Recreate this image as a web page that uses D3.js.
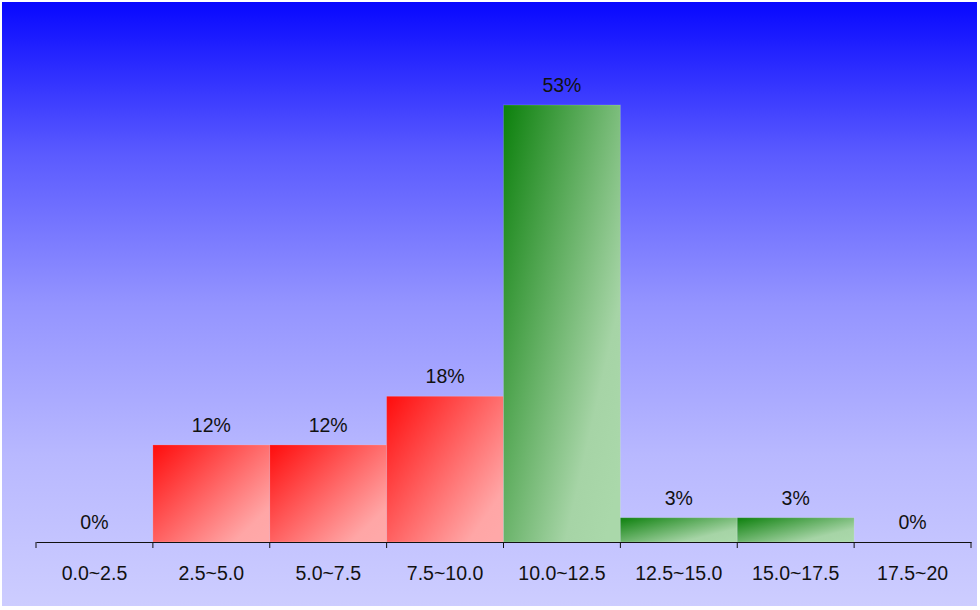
<!DOCTYPE html>
<html>
<head>
<meta charset="utf-8">
<script src="https://cdn.jsdelivr.net/npm/d3@7"></script>
<style>
  body { margin: 0; background: #fff; }
  svg { display: block; }
  text { font-family: "Liberation Sans", Arial, sans-serif; }
</style>
</head>
<body>
<svg id="chart" width="980" height="610"></svg>
<script>
// ------------- DATA ------------- //
var categories = ["0.0~2.5", "2.5~5.0", "5.0~7.5", "7.5~10.0", "10.0~12.5", "12.5~15.0", "15.0~17.5", "17.5~20"];
var percents = [0, 11.76, 11.76, 17.65, 52.94, 2.94, 2.94, 0];
var labels = ["0%", "12%", "12%", "18%", "53%", "3%", "3%", "0%"];
var groups = ["red", "red", "red", "red", "green", "green", "green", "green"];

// ------------- LAYOUT ------------- //
var svg = d3.select("#chart");
var left = 36, right = 971, axisY = 542, topY = 105;

var defs = svg.append("defs");
// background: vertical blue, lightens fast then levels off
var bg = defs.append("linearGradient").attr("id", "bg")
  .attr("x1", 0).attr("y1", 0).attr("x2", 0).attr("y2", 1);
[[0, "#0808ff"], [0.25, "#5a5aff"], [0.5, "#9494ff"], [0.75, "#b8b8ff"], [1, "#cdcdff"]].forEach(function(s) {
  bg.append("stop").attr("offset", s[0]).attr("stop-color", s[1]);
});

var red = defs.append("linearGradient").attr("id", "red")
  .attr("x1", 0).attr("y1", 0).attr("x2", 1).attr("y2", 0.85);
red.append("stop").attr("offset", "0%").attr("stop-color", "#ff0c0c");
red.append("stop").attr("offset", "90%").attr("stop-color", "#ffa6a6");
red.append("stop").attr("offset", "100%").attr("stop-color", "#ffa8a8");

var green = defs.append("linearGradient").attr("id", "green")
  .attr("x1", 0).attr("y1", 0).attr("x2", 1).attr("y2", 0.85);
green.append("stop").attr("offset", "0%").attr("stop-color", "#0c800c");
green.append("stop").attr("offset", "80%").attr("stop-color", "#a6d4a6");
green.append("stop").attr("offset", "100%").attr("stop-color", "#aad8aa");

svg.append("rect")
  .attr("x", 2).attr("y", 2)
  .attr("width", 975).attr("height", 604)
  .attr("fill", "url(#bg)");

var x = d3.scaleBand().domain(categories).range([left, right]).padding(0);
var y = d3.scaleLinear().domain([0, d3.max(percents)]).range([axisY, topY]);

// bars
svg.selectAll(".bar")
  .data(percents)
  .enter().append("rect")
  .attr("class", "bar")
  .attr("x", function(d, i) { return x(categories[i]); })
  .attr("y", function(d) { return y(d); })
  .attr("width", x.bandwidth())
  .attr("height", function(d) { return axisY - y(d); })
  .attr("fill", function(d, i) { return "url(#" + groups[i] + ")"; })
  .attr("stroke", "rgba(255,255,255,0.15)")
  .attr("stroke-width", 1);

// value labels
svg.selectAll(".val")
  .data(percents)
  .enter().append("text")
  .attr("class", "val")
  .attr("x", function(d, i) { return x(categories[i]) + x.bandwidth() / 2; })
  .attr("y", function(d) { return y(d) - 13; })
  .attr("text-anchor", "middle")
  .attr("font-size", "19.5px")
  .attr("fill", "#111")
  .text(function(d, i) { return labels[i]; });

// axis
var xAxis = d3.axisBottom(x).tickSize(6).tickSizeOuter(0).tickFormat("");
var gx = svg.append("g").attr("transform", "translate(0," + axisY + ")").call(xAxis);
gx.select(".domain").attr("stroke", "#111");
gx.selectAll(".tick").remove();

// ticks sit on the band edges, not centres
var edges = categories.map(function(c) { return x(c); }).concat([right]);
gx.selectAll(".edge")
  .data(edges)
  .enter().append("line")
  .attr("class", "edge")
  .attr("x1", function(d) { return d; }).attr("x2", function(d) { return d; })
  .attr("y1", 0).attr("y2", 6)
  .attr("stroke", "#111");

gx.selectAll(".cat")
  .data(categories)
  .enter().append("text")
  .attr("class", "cat")
  .attr("x", function(d) { return x(d) + x.bandwidth() / 2; })
  .attr("y", 38)
  .attr("text-anchor", "middle")
  .attr("font-size", "19.5px")
  .attr("fill", "#111")
  .text(function(d) { return d; });
</script>
</body>
</html>
